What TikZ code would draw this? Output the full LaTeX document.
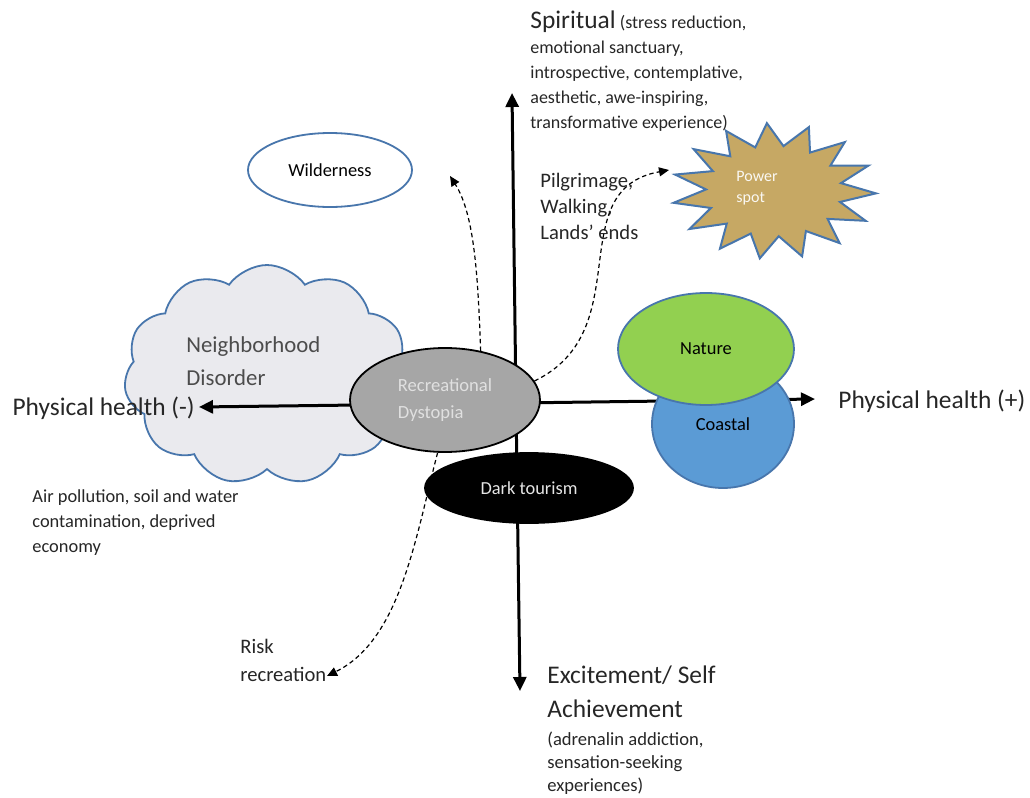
\documentclass[tikz,border=0pt]{standalone}
\usepackage{fontspec}
\setmainfont{Carlito}
\usepackage{tikz}
\usetikzlibrary {arrows.meta,
                 positioning,
                 shapes.geometric,
                 shapes.symbols}
\definecolor{edgeblue}{RGB}{72,118,172}
\definecolor{natgreen}{RGB}{146,208,80}
\definecolor{coastblue}{RGB}{91,155,213}
\definecolor{spottan}{RGB}{198,168,100}
\definecolor{cloudgray}{RGB}{234,234,238}
\definecolor{dystgray}{RGB}{166,166,166}
\tikzset{
        place/.style={ellipse, draw=edgeblue, line width=0.9pt, align=center,
                      inner sep=0pt, font=\fontsize{9.2}{11}\selectfont},
        axis/.style={-{Triangle[length=7pt, width=6.5pt]}, line width=1.5pt},
        link/.style={-{Triangle[length=5pt, width=4.5pt]}, dash pattern=on 2.2pt off 1.6pt,
                     line width=0.6pt},
        note/.style={anchor=base west, align=left, inner sep=0pt, text=black!85},
        pole/.style={note, font=\fontsize{12.7}{16.5}\selectfont},
 }

\begin{document}
\begin{tikzpicture}[x=0.5pt, y=-0.5pt]
    \useasboundingbox (0,0) rectangle (1030,798);

    \node[cloud, cloud puffs=11, cloud puff arc=110, cloud ignores aspect, draw=edgeblue,
          fill=cloudgray, line width=0.9pt, minimum width=143pt, minimum height=110pt] (hood) at (267,375) {};
    \node[note, text=black!70, font=\fontsize{11.4}{16.5}\selectfont] (hoodtext) at (186,385) {Neighborhood\\Disorder};

    \coordinate (hub) at (516,403);
    \coordinate (spirit) at (512,93);
    \coordinate (thrill) at (520,691);
    \coordinate (healthneg) at (199,407);
    \coordinate (healthpos) at (815,399);
    \draw[axis] (hub) -- (spirit);
    \draw[axis] (hub) -- (thrill);
    \draw[axis] (hub) -- (healthneg);
    \draw[axis] (hub) -- (healthpos);

    \node[place, fill=white, minimum width=82pt, minimum height=37pt] (wild) at (330,170) {Wilderness};
    \node[star, star points=15, star point ratio=1.5, draw=edgeblue, fill=spottan, line width=1pt,
          minimum size=68pt, xscale=1.5, rotate=4, transform shape] (spot) at (774,191) {};
    \node[note, anchor=center, text=white!92!spottan, font=\fontsize{8}{10.5}\selectfont] (spottext) at (757,188) {Power\\spot};

    \node[place, draw=black, fill=dystgray, text=white!88!black, align=left,
          minimum width=95pt, minimum height=52pt, font=\fontsize{9.3}{13.5}\selectfont] (dyst) at (445,400) {Recreational\\Dystopia};
    \node[place, draw=black, fill=black, text=white!90!black, minimum width=104pt, minimum height=35pt] (dark) at (529,488) {Dark tourism};
    \node[place, fill=coastblue, minimum width=71pt, minimum height=64pt] (coast) at (723,424) {Coastal};
    \node[place, fill=natgreen, minimum width=88pt, minimum height=56pt] (nature) at (706,349) {Nature};

    \coordinate (wildtip) at (450,176);
    \coordinate (spottip) at (669,170);
    \coordinate (risktip) at (327,676);
    \draw[link] (dyst.54) .. controls (478,280) and (475,215) .. (wildtip);
    \draw[link] (dyst.12) .. controls (640,330) and (560,190) .. (spottip);
    \draw[link] (dyst.-98) .. controls (415,540) and (400,640) .. (risktip);

    \node[pole, anchor=base east] (neglabel) at (195,415) {Physical health (-)};
    \node[pole] (poslabel) at (838,408) {Physical health (+)};
    \node[note, font=\fontsize{9}{12.5}\selectfont] (spirittext) at (530,128)
        {{\fontsize{12.7}{12.5}\selectfont Spiritual} (stress reduction,\\
         emotional sanctuary,\\introspective, contemplative,\\aesthetic, awe-inspiring,\\
         transformative experience)};
    \node[note, font=\fontsize{10.3}{13}\selectfont] (pilgrim) at (540,239) {Pilgrimage,\\Walking,\\Lands’ ends};
    \node[note, font=\fontsize{9.2}{12.3}\selectfont] (hazard) at (32,552)
        {Air pollution, soil and water\\contamination, deprived\\economy};
    \node[note, font=\fontsize{10.3}{14}\selectfont] (risk) at (240,681) {Risk\\recreation};
    \node[pole, font=\fontsize{12.7}{17}\selectfont] (thrilltext) at (547,717) {Excitement/ Self\\Achievement};
    \node[note, font=\fontsize{9.3}{11.5}\selectfont] (thrillnote) at (547,791)
        {(adrenalin addiction,\\sensation-seeking\\experiences)};
\end{tikzpicture}
\end{document}
